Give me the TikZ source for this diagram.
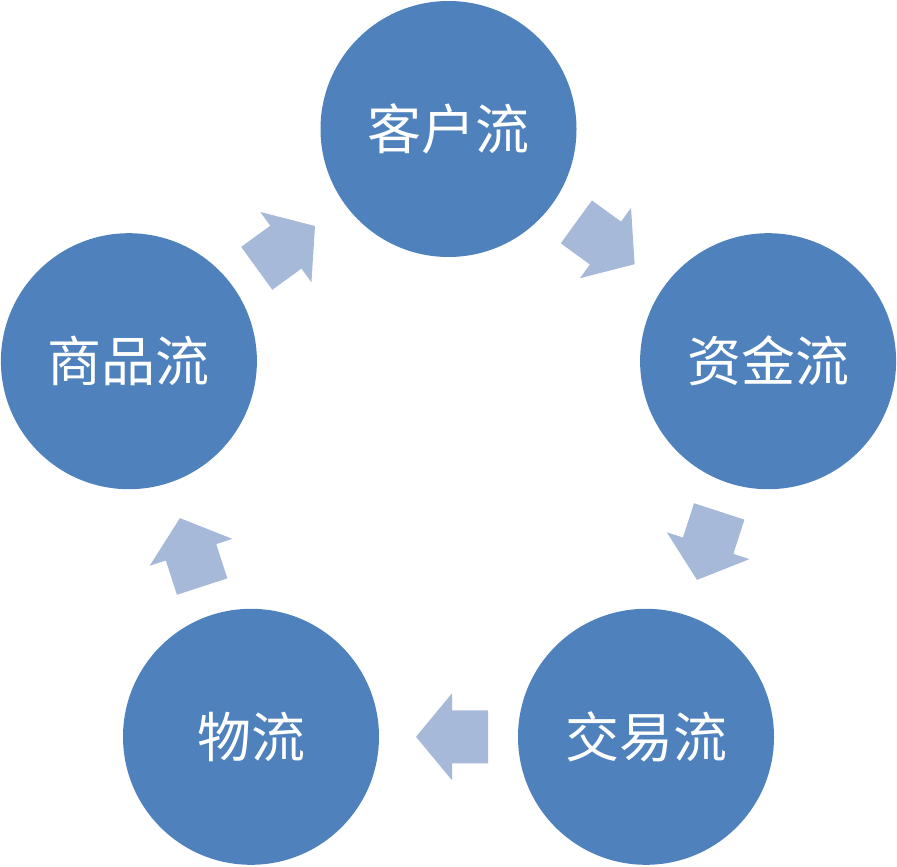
\documentclass[tikz,border=0pt]{standalone}
\usepackage{fontspec}
\newfontfamily\cjk{Noto Sans CJK SC}
\usetikzlibrary{calc}
\definecolor{circblue}{RGB}{79,129,189}
\definecolor{arrblue}{RGB}{167,185,217}
\tikzset{
  flowcircle/.style={circle, fill=circblue, minimum size=256pt, inner sep=0pt,
    text=white, font=\cjk\fontsize{54}{60}\selectfont},
  blockarrow/.style={fill=arrblue}
}
\newcommand{\cyclearrow}[3]{% from, to, angle
  \begin{scope}[shift={($(#1)!0.5!(#2)$)}, rotate=#3]
    \fill[blockarrow] (-39.5,26.5) -- (-3.5,26.5) -- (-3.5,43.5) -- (32.5,0)
      -- (-3.5,-43.5) -- (-3.5,-26.5) -- (-39.5,-26.5) -- cycle;
  \end{scope}}
\begin{document}
\begin{tikzpicture}[x=1pt,y=-1pt]
\useasboundingbox (0,0) rectangle (897,867);
\node[flowcircle] (kh) at (448.5,129.0) {客户流};
\node[flowcircle] (zj) at (768.1,361.2) {资金流};
\node[flowcircle] (jy) at (646.0,736.8) {交易流};
\node[flowcircle] (wl) at (251.0,736.8) {物流};
\node[flowcircle] (sp) at (128.9,361.2) {商品流};
\cyclearrow{kh}{zj}{-36}
\cyclearrow{zj}{jy}{-108}
\cyclearrow{jy}{wl}{180}
\cyclearrow{wl}{sp}{108}
\cyclearrow{sp}{kh}{36}
\end{tikzpicture}
\end{document}
